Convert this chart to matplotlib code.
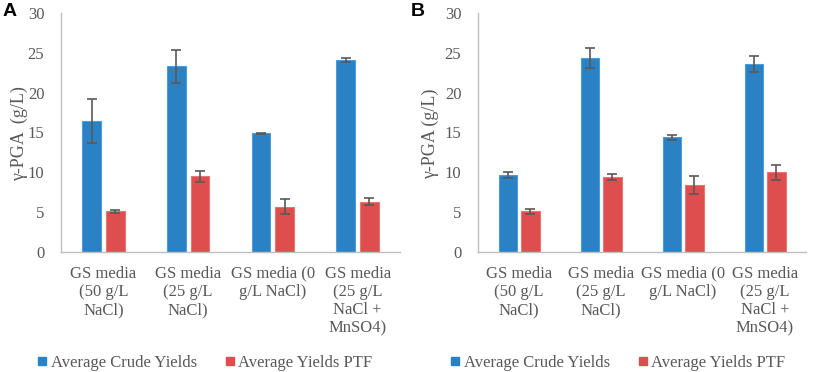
import numpy as np
import matplotlib.pyplot as plt
from matplotlib.lines import Line2D

# ---- data ----
categories = ["GS media\n(50 g/L\nNaCl)", "GS media\n(25 g/L\nNaCl)",
              "GS media (0\ng/L NaCl)", "GS media\n(25 g/L\nNaCl +\nMnSO4)"]
series_names = ["Average Crude Yields", "Average Yields PTF"]

crude_A = [16.4, 23.3, 14.9, 24.1]
crude_A_err = [2.75, 2.1, 0.05, 0.3]
ptf_A = [5.1, 9.5, 5.7, 6.3]
ptf_A_err = [0.15, 0.7, 0.9, 0.45]

crude_B = [9.7, 24.4, 14.4, 23.6]
crude_B_err = [0.4, 1.25, 0.3, 1.0]
ptf_B = [5.1, 9.4, 8.4, 10.0]
ptf_B_err = [0.3, 0.4, 1.15, 0.9]

yticks = [0, 5, 10, 15, 20, 25, 30]

BLUE, BLUE_EDGE = '#2A82C5', '#4E9CD9'
RED, RED_EDGE = '#DE4E4E', '#EC7373'
GREY = '#595959'
SERIF = 'Liberation Serif'

fig = plt.figure(figsize=(8.16, 3.72), dpi=100)
axA = fig.add_axes([61/816, 1-252/372, 339/816, 239/372])
axB = fig.add_axes([478/816, 1-252/372, 328/816, 239/372])


def draw_panel(ax, crude, crude_err, ptf, ptf_err):
    x = np.arange(len(categories))
    w = 0.22
    off = 0.14
    err_kw = dict(ecolor=GREY, elinewidth=1.2, capsize=3.5, capthick=1.2)
    ax.bar(x - off, crude, w, yerr=crude_err, color=BLUE, edgecolor=BLUE_EDGE,
           linewidth=0.8, error_kw=err_kw, zorder=2)
    ax.bar(x + off, ptf, w, yerr=ptf_err, color=RED, edgecolor=RED_EDGE,
           linewidth=0.8, error_kw=err_kw, zorder=2)
    ax.set_xlim(-0.5, len(categories) - 0.5)
    ax.set_ylim(0, 30)
    ax.set_yticks(yticks)
    ax.set_xticks(x)
    ax.set_xticklabels(categories, family=SERIF, fontsize=12, color=GREY,
                       linespacing=1.18)
    for lab in ax.get_yticklabels():
        lab.set_family(SERIF)
        lab.set_fontsize(12)
        lab.set_color(GREY)
    ax.tick_params(axis='y', length=0, pad=12)
    ax.tick_params(axis='x', length=0, pad=10)
    for s in ['top', 'right']:
        ax.spines[s].set_visible(False)
    for s in ['left', 'bottom']:
        ax.spines[s].set_color('#BFBFBF')
        ax.spines[s].set_linewidth(1.0)


draw_panel(axA, crude_A, crude_A_err, ptf_A, ptf_A_err)
draw_panel(axB, crude_B, crude_B_err, ptf_B, ptf_B_err)

# y labels
fig.text(19/816, 1-134/372, "γ-PGA  (g/L)", rotation=90, ha='center', va='center',
         family=SERIF, fontsize=13, color=GREY)
fig.text(430/816, 1-134/372, "γ-PGA (g/L)", rotation=90, ha='center', va='center',
         family=SERIF, fontsize=13, color=GREY)

# panel letters
fig.text(10/816, 1-12/372, "A", ha='center', va='center', family='Liberation Sans',
         fontweight='bold', fontsize=14, color='black')
fig.text(418/816, 1-12/372, "B", ha='center', va='center', family='Liberation Sans',
         fontweight='bold', fontsize=14, color='black')

# legends
handles = [Line2D([], [], marker='s', linestyle='none', markersize=6,
                  markerfacecolor=c, markeredgecolor=c) for c in (BLUE, RED)]
for cx in (204/816, 617/816):
    fig.legend(handles, series_names, loc='center', bbox_to_anchor=(cx, 1-363/372),
               ncol=2, frameon=False, handletextpad=0.1, columnspacing=1.6,
               handlelength=0.8, prop=dict(family=SERIF, size=12), labelcolor=GREY)

fig.savefig("out.png", dpi=100)
